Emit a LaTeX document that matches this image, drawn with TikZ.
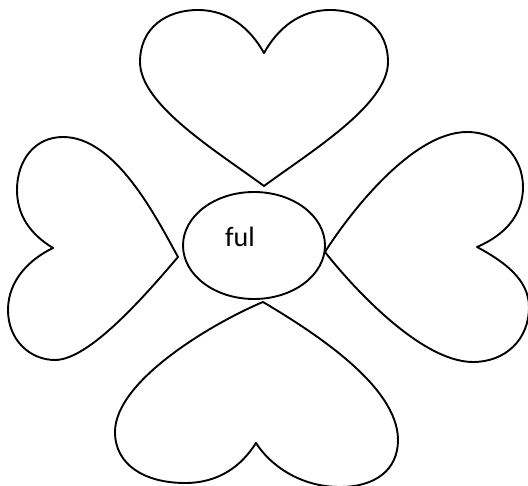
\documentclass[tikz,border=0pt]{standalone}
\usepackage{fontspec}
\setmainfont{Carlito}
\usetikzlibrary{shapes.geometric}
\begin{document}
\begin{tikzpicture}[x=1pt,y=-1pt,
  outline/.style={draw=black,line width=1.9pt,line join=round},
  label/.style={font=\fontsize{28}{34}\selectfont,inner sep=0pt}]
\useasboundingbox (0,0) rectangle (528,486);
% top heart (tip down)
\draw[outline] (264,186) .. controls (310,152) and (388,105) .. (388,62)
  .. controls (388,28) and (362,10) .. (330,10)
  .. controls (300,10) and (278,28) .. (264,53)
  .. controls (250,28) and (228,10) .. (198,10)
  .. controls (166,10) and (140,28) .. (140,62)
  .. controls (140,105) and (218,152) .. cycle;
% left heart (tip right)
\draw[outline] (178,257) .. controls (155,215) and (115,137) .. (63,137)
  .. controls (35,137) and (17,160) .. (17,190)
  .. controls (17,215) and (30,234) .. (53,248)
  .. controls (30,259) and (8,280) .. (8,310)
  .. controls (8,340) and (30,360) .. (55,360)
  .. controls (90,360) and (148,292) .. cycle;
% right heart (tip left)
\draw[outline] (325,252) .. controls (345,220) and (410,132) .. (467,132)
  .. controls (500,132) and (523,157) .. (523,187)
  .. controls (523,215) and (505,235) .. (477,247)
  .. controls (505,262) and (529,280) .. (529,307)
  .. controls (529,340) and (505,362) .. (473,362)
  .. controls (420,362) and (350,284) .. cycle;
% bottom heart (tip up)
\draw[outline] (263,302) .. controls (215,322) and (115,380) .. (115,432)
  .. controls (115,465) and (145,483) .. (185,483)
  .. controls (220,483) and (242,465) .. (256,443)
  .. controls (270,465) and (300,487) .. (340,487)
  .. controls (375,487) and (398,470) .. (398,440)
  .. controls (398,385) and (310,330) .. cycle;
% centre ellipse
\node[outline,ellipse,minimum width=142pt,minimum height=107pt,inner sep=0pt] (core) at (254,245.5) {};
\node[label,anchor=base west] (word) at (225,247) {ful};
\end{tikzpicture}
\end{document}
